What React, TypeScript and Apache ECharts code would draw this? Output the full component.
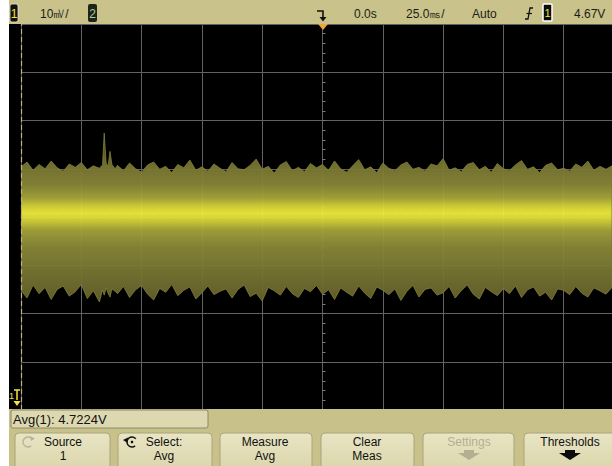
import React, { useEffect, useRef } from "react";
import * as echarts from "echarts";

// Time (ms, relative to trigger) of envelope samples
const timeMs = [
  -125, -122.5, -120, -117.5, -115, -112.5, -110, -107.5, -105, -102.5, -100, -97.5, -95, -92.5,
  -91.2, -90.5, -89.7, -88.9, -88.1, -87.3, -86,
  -85, -82.5, -80, -77.5, -75, -72.5, -70, -67.5, -65, -62.5, -60, -57.5, -55, -52.5, -50, -47.5,
  -45, -42.5, -40, -37.5, -35, -32.5, -30, -27.5, -25, -22.5, -20, -17.5, -15, -12.5, -10, -7.5,
  -5, -2.5, 0,
  2.5, 5, 7.5, 10, 12.5, 15, 17.5, 20, 22.5, 25, 27.5, 30, 32.5, 35, 37.5, 40, 42.5, 45, 47.5, 50,
  52.5, 55, 57.5, 60, 62.5, 65, 67.5, 70, 72.5, 75, 77.5, 80, 82.5, 85, 87.5, 90, 92.5, 95, 97.5,
  100, 102.5, 105, 107.5, 110, 112.5, 115, 117.5, 120,
];

// Upper edge of the noise envelope (mV relative to screen centre)
const upperMv = [
  10.4, 11.4, 9.7, 10.9, 10.0, 11.6, 10.2, 9.5, 11.0, 10.3, 11.3, 9.8, 10.6, 10.1,
  10.8, 17.4, 11.2, 10.5, 13.6, 10.9, 10.0,
  10.7, 9.6, 11.2, 10.0, 9.3, 10.8, 11.4, 9.9, 10.5, 9.2, 10.9, 10.2, 11.8, 9.7, 10.4, 9.5, 11.0,
  10.1, 9.4, 11.3, 10.0, 9.8, 10.7, 12.0, 9.9, 10.5, 9.1, 10.8, 11.5, 9.6, 10.3, 9.4, 11.1, 10.2,
  10.9,
  9.7, 11.6, 10.0, 9.3, 10.6, 11.9, 9.8, 10.4, 9.2, 11.2, 10.1, 9.6, 10.8, 11.4, 9.9, 10.3, 9.5,
  11.0, 10.6, 12.1, 9.7, 10.2, 9.4, 10.9, 11.3, 9.8, 10.5, 9.3, 11.1, 10.0, 9.6, 10.8, 11.7, 9.9,
  10.4, 9.2, 10.7, 11.2, 9.8, 10.1, 9.5, 11.0, 10.3, 11.6, 9.7, 10.5, 9.9, 10.6,
];

// Lower edge of the noise envelope (mV relative to screen centre)
const lowerMv = [
  -15.2, -16.8, -14.1, -15.9, -14.6, -17.1, -15.0, -14.3, -16.4, -15.5, -14.0, -16.9, -15.3, -17.6,
  -15.1, -16.2, -14.7, -15.8, -16.6, -14.9, -15.4,
  -15.9, -14.4, -16.7, -15.1, -14.2, -16.0, -17.2, -14.8, -15.6, -14.0, -16.3, -15.2, -14.5, -17.0,
  -15.7, -14.3, -16.1, -15.4, -14.9, -16.8, -15.0, -14.1, -16.5, -15.8, -17.4, -14.6, -15.3, -16.2,
  -14.4, -15.9, -16.7, -14.8, -15.5, -14.2, -16.0,
  -15.1, -17.1, -14.7, -15.6, -16.4, -14.3, -15.8, -16.9, -14.5, -15.2, -16.1, -14.9, -17.3, -15.4,
  -14.2, -16.6, -15.0, -14.7, -16.2, -15.7, -14.4, -16.8, -15.3, -14.1, -16.0, -17.0, -14.6, -15.5,
  -16.3, -14.8, -15.9, -14.3, -16.7, -15.1, -14.5, -16.4, -15.6, -17.2, -14.9, -15.2, -16.1, -14.4,
  -15.8, -16.6, -14.7, -15.3, -16.0, -14.6,
];

// Axis ranges: 10 divisions of 25 ms, 8 divisions of 10 mV
const timeRange = [-125, 125];
const timePerDiv = 25;
const voltRange = [-40, 40];
const voltPerDiv = 10;

// Status line and softkey texts
const statusTexts = ["10㎷/", "0.0s", "25.0㎳/", "Auto", "4.67V"];
const measurementText = "Avg(1): 4.7224V";
const softkeys = [
  ["Source", "1"],
  ["Select:", "Avg"],
  ["Measure", "Avg"],
  ["Clear", "Meas"],
  ["Settings", ""],
  ["Thresholds", ""],
];

const FONT = '"Liberation Sans", Arial, sans-serif';
const W = 632;

function txt(x: number, y: number, text: string, size = 12, fill = "#1c1c14", align = "left") {
  return {
    type: "text",
    x,
    y,
    z: 120,
    style: {
      text,
      font: `${size}px ${FONT}`,
      fill,
      textAlign: align,
      textVerticalAlign: "middle",
    },
  };
}

function buildGraphics() {
  const g: any[] = [];
  g.push({ type: "rect", z: 100, shape: { x: 0, y: 0, width: 9, height: 466 }, style: { fill: "#ffffff" } });
  g.push({ type: "rect", z: 100, shape: { x: 9, y: 0, width: W - 9, height: 24 }, style: { fill: "#c9c38b" } });
  g.push({ type: "rect", z: 100, shape: { x: 9, y: 409, width: W - 9, height: 57 }, style: { fill: "#c8c28a" } });

  g.push({ type: "rect", z: 110, shape: { x: 10, y: 4, width: 8, height: 18, r: 2 }, style: { fill: "#111", stroke: "#e8e4c8", lineWidth: 0.8 } });
  g.push(txt(14, 13.5, "1", 12, "#f2e640", "center"));
  g.push(txt(40, 13.5, statusTexts[0], 12));
  g.push({ type: "rect", z: 110, shape: { x: 88, y: 4, width: 9, height: 18, r: 2 }, style: { fill: "#1c2618" } });
  g.push(txt(92.5, 13.5, "2", 12, "#a8c8a0", "center"));

  g.push({ type: "polyline", z: 110, shape: { points: [[317, 11], [323, 11], [323, 20]] }, style: { stroke: "#111", lineWidth: 1.6, fill: null } });
  g.push({ type: "polygon", z: 110, shape: { points: [[319.5, 17], [326.5, 17], [323, 21.5]] }, style: { fill: "#111" } });
  g.push({ type: "polygon", z: 110, shape: { points: [[318, 24], [328, 24], [323, 30]] }, style: { fill: "#f0a43a" } });

  g.push(txt(354, 13.5, statusTexts[1], 12));
  g.push(txt(406, 13.5, statusTexts[2], 12));
  g.push(txt(472, 13.5, statusTexts[3], 12));
  g.push({ type: "polyline", z: 110, shape: { points: [[525, 19], [528, 19], [530, 8], [533, 8]] }, style: { stroke: "#111", lineWidth: 1.3, fill: null } });
  g.push({ type: "line", z: 110, shape: { x1: 526.5, y1: 13.5, x2: 532, y2: 13.5 }, style: { stroke: "#111", lineWidth: 1.2 } });
  g.push({ type: "rect", z: 110, shape: { x: 543, y: 4, width: 9, height: 17, r: 1 }, style: { fill: "#0c0c0c", stroke: "#ffffff", lineWidth: 1.5 } });
  g.push(txt(547.5, 13, "1", 11, "#f2e640", "center"));
  g.push(txt(574, 13.5, statusTexts[4], 12));

  g.push(txt(9, 396, "1", 9, "#f2e640"));
  g.push({ type: "line", z: 110, shape: { x1: 14, y1: 390, x2: 20, y2: 390 }, style: { stroke: "#f2e640", lineWidth: 1.5 } });
  g.push({ type: "line", z: 110, shape: { x1: 17, y1: 390, x2: 17, y2: 400 }, style: { stroke: "#f2e640", lineWidth: 1.5 } });
  g.push({ type: "polygon", z: 110, shape: { points: [[13.5, 401], [20.5, 401], [17, 406]] }, style: { fill: "#f2e640" } });

  g.push({ type: "rect", z: 110, shape: { x: 11, y: 410, width: 197, height: 18, r: 2 }, style: { fill: "#ddd8b0", stroke: "#8c886a", lineWidth: 1 } });
  g.push(txt(13, 419.5, measurementText, 13, "#111"));

  const keyX = [15, 118, 220, 321, 423, 524];
  const keyW = [95, 94, 92, 93, 91, 100];
  const keyCx = [63, 164, 265, 367, 469, 570];
  softkeys.forEach((k, i) => {
    g.push({
      type: "rect",
      z: 105,
      shape: { x: keyX[i], y: 433, width: keyW[i], height: 40, r: 4 },
      style: {
        fill: new echarts.graphic.LinearGradient(0, 0, 0, 1, [
          { offset: 0, color: "#e9e5c4" },
          { offset: 1, color: "#d9d4a8" },
        ]),
        stroke: "#aaa47c",
        lineWidth: 1,
      },
    });
    const disabled = i === 4;
    const col = disabled ? "#b3af94" : "#111";
    g.push(txt(keyCx[i], 442, k[0], 12, col, "center"));
    if (k[1]) g.push(txt(keyCx[i], 456, k[1], 12, col, "center"));
  });
  const arrow = (cx: number, color: string) => ({
    type: "polygon",
    z: 120,
    shape: {
      points: [[cx - 5, 450], [cx + 5, 450], [cx + 5, 453], [cx + 11, 453], [cx, 460], [cx - 11, 453], [cx - 5, 453]],
    },
    style: { fill: color },
  });
  g.push(arrow(469, "#b3af94"));
  g.push(arrow(570, "#0c0c0c"));
  g.push({ type: "arc", z: 120, shape: { cx: 28, cy: 442, r: 5, startAngle: 0.9, endAngle: 5.6 }, style: { stroke: "#b8b49a", lineWidth: 1.4, fill: null } });
  g.push({ type: "polygon", z: 120, shape: { points: [[30, 436], [35, 438.5], [31, 441]] }, style: { fill: "#b8b49a" } });
  g.push({ type: "arc", z: 120, shape: { cx: 132, cy: 442, r: 5, startAngle: 0.9, endAngle: 5.6 }, style: { stroke: "#111", lineWidth: 1.4, fill: null } });
  g.push({ type: "polygon", z: 120, shape: { points: [[123, 440], [128, 437.5], [127.5, 443]] }, style: { fill: "#111" } });
  g.push({ type: "circle", z: 120, shape: { cx: 132, cy: 442, r: 1.3 }, style: { fill: "#111" } });
  return g;
}

export default function App() {
  const ref = useRef<HTMLDivElement>(null);
  useEffect(() => {
    if (!ref.current) return;
    const chart = echarts.init(ref.current, undefined, { renderer: "svg" });
    const gridColor = "#626262";
    const bandFill = new echarts.graphic.LinearGradient(
      0, 150, 0, 310,
      [
        { offset: 0, color: "#5e5c26" },
        { offset: 0.1, color: "#787632" },
        { offset: 0.22, color: "#888638" },
        { offset: 0.3, color: "#a8a63a" },
        { offset: 0.35, color: "#d6d438" },
        { offset: 0.395, color: "#f0ec3c" },
        { offset: 0.44, color: "#d6d438" },
        { offset: 0.5, color: "#a6a43a" },
        { offset: 0.6, color: "#8a8838" },
        { offset: 0.75, color: "#787632" },
        { offset: 0.9, color: "#68662c" },
        { offset: 1, color: "#585624" },
      ],
      true
    );
    chart.setOption({
      animation: false,
      backgroundColor: "#000000",
      grid: { left: 21, top: 24, width: 603, height: 386, show: false, outerBoundsMode: "none", containLabel: false },
      xAxis: {
        type: "value",
        min: timeRange[0],
        max: timeRange[1],
        interval: timePerDiv,
        axisLine: { show: true, onZero: true, lineStyle: { color: gridColor, width: 1 } },
        axisTick: { show: true, length: 3, inside: true, lineStyle: { color: "#7a7a7a" } },
        minorTick: { show: true, splitNumber: 5, length: 3, lineStyle: { color: "#7a7a7a" } },
        axisLabel: { show: false },
        splitLine: { show: true, lineStyle: { color: gridColor, width: 1 } },
      },
      yAxis: {
        type: "value",
        min: voltRange[0],
        max: voltRange[1],
        interval: voltPerDiv,
        axisLine: { show: true, onZero: true, lineStyle: { color: gridColor, width: 1 } },
        axisTick: { show: true, length: 3, inside: true, lineStyle: { color: "#7a7a7a" } },
        minorTick: { show: true, splitNumber: 5, length: 3, lineStyle: { color: "#7a7a7a" } },
        axisLabel: { show: false },
        splitLine: { show: true, lineStyle: { color: gridColor, width: 1 } },
      },
      series: [
        {
          type: "custom",
          name: "noise",
          coordinateSystem: "cartesian2d",
          silent: true,
          clip: true,
          data: [[timeMs[0], 0]],
          renderItem: (_params: any, api: any) => {
            const top = timeMs.map((t, i) => api.coord([t, upperMv[i]]));
            const bottom = timeMs.map((t, i) => api.coord([t, lowerMv[i]])).reverse();
            return {
              type: "polygon",
              shape: { points: top.concat(bottom) },
              style: { fill: bandFill, stroke: "#85833a", lineWidth: 0.8, opacity: 0.95 },
            };
          },
        },
        {
          type: "line",
          name: "left edge",
          data: [],
          markLine: {
            silent: true,
            symbol: "none",
            label: { show: false },
            lineStyle: { type: [5, 3], color: "#c2ad7e", width: 1.2 },
            data: [{ xAxis: timeRange[0] }],
          },
        },
      ],
      graphic: buildGraphics(),
    });
    return () => chart.dispose();
  }, []);
  return <div ref={ref} style={{ position: "fixed", left: 0, top: 0, width: W, height: 466 }} />;
}
